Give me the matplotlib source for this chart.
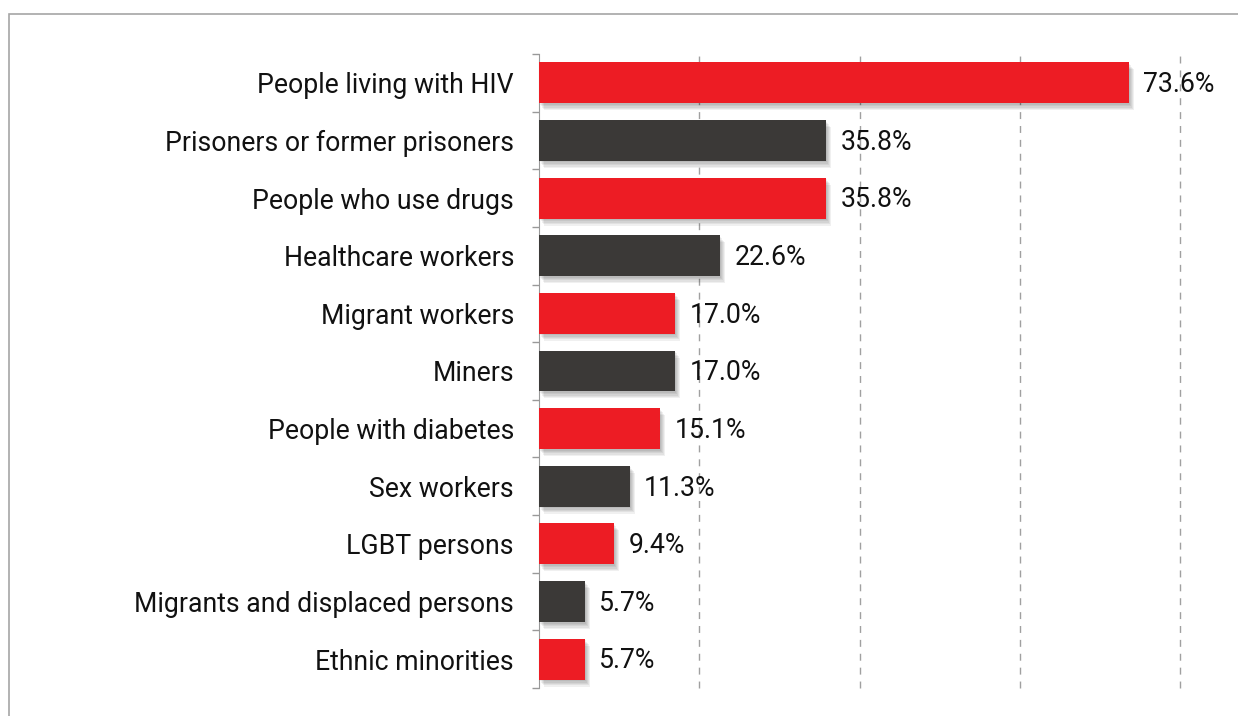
import numpy as np
import matplotlib.pyplot as plt
import matplotlib.patheffects as pe
from matplotlib.patches import Rectangle

plt.rcParams['font.family'] = ['Roboto', 'DejaVu Sans']

categories = ['People living with HIV', 'Prisoners or former prisoners',
              'People who use drugs', 'Healthcare workers', 'Migrant workers',
              'Miners', 'People with diabetes', 'Sex workers', 'LGBT persons',
              'Migrants and displaced persons', 'Ethnic minorities']
values = [73.6, 35.8, 35.8, 22.6, 17.0, 17.0, 15.1, 11.3, 9.4, 5.7, 5.7]
labels = ['73.6%', '35.8%', '35.8%', '22.6%', '17.0%', '17.0%', '15.1%',
          '11.3%', '9.4%', '5.7%', '5.7%']

RED = '#ED1C24'
DARK = '#3B3937'
colors = [RED if i % 2 == 0 else DARK for i in range(len(values))]

fig = plt.figure(figsize=(12.38, 7.16), dpi=100)
# frame around the chart area (runs off the right and bottom edges)
fig.patches.append(Rectangle((9 / 1238, -0.1), 1.2, 1 - 14 / 716 + 0.1,
                             transform=fig.transFigure, fill=False,
                             edgecolor='#A6A6A6', linewidth=1.2))

ax = fig.add_axes([539 / 1238, 1 - 688 / 716, (1180 - 539) / 1238, (688 - 54) / 716])

y = np.arange(len(values))
bars = ax.barh(y, values, height=0.71, color=colors, zorder=3)
# soft drop shadow: a few stacked faint offsets
shadow = [pe.SimplePatchShadow(offset=(o, -o * 1.4), shadow_rgbFace='#000000', alpha=0.06)
          for o in (0.8, 1.5, 2.2, 2.9, 3.6)]
for b in bars:
    b.set_path_effects(shadow + [pe.Normal()])

for yi, v, lab in zip(y, values, labels):
    ax.text(v + 1.8, yi + 0.03, lab, va='center', ha='left', fontsize=19.2, color='#111111')

ax.set_xlim(0, 80)
ax.set_ylim(len(values) - 0.5, -0.5)
ax.set_xticks([20, 40, 60, 80])
ax.set_xticklabels([])
ax.tick_params(axis='x', length=0)
ax.grid(axis='x', linestyle=(0, (5, 5)), color='#A0A0A0', linewidth=1, zorder=0)
for gl in ax.get_xgridlines():
    gl.set_clip_on(False)

ax.set_yticks(y)
ax.set_yticklabels(categories, fontsize=19.2, color='#111111')
ax.tick_params(axis='y', which='major', length=0, pad=18)
ax.set_yticks(np.arange(len(values) + 1) - 0.5, minor=True)
ax.tick_params(axis='y', which='minor', length=5, color='#999999', width=1)

for s in ['top', 'right', 'bottom']:
    ax.spines[s].set_visible(False)
ax.spines['left'].set_color('#999999')

fig.savefig('out.png', dpi=100, facecolor='white')
